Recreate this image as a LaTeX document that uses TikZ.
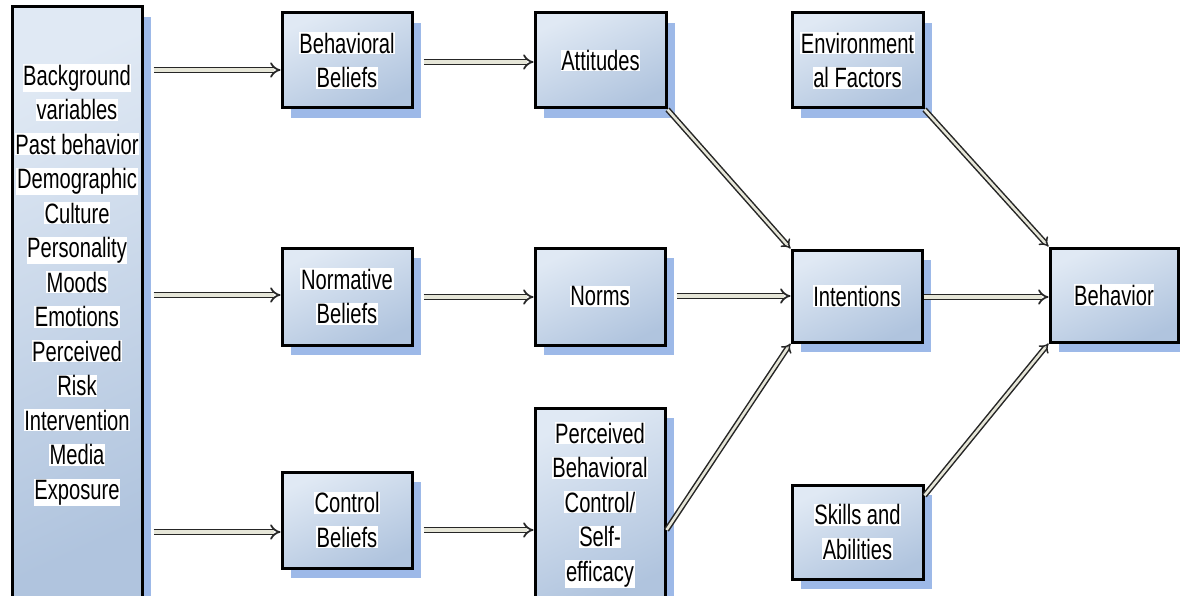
\documentclass[tikz,border=0pt]{standalone}
\usepackage{fontspec}
\setmainfont{Liberation Sans}[FakeStretch=0.72]
\usetikzlibrary{arrows.meta,shadows}
\definecolor{boxtop}{HTML}{E0E9F4}
\definecolor{boxbot}{HTML}{B0C4DE}
\definecolor{shadowblue}{HTML}{9DB9E8}
\definecolor{arrowin}{HTML}{E6E6D8}
\definecolor{arrowout}{HTML}{262626}
\newcommand\hl[1]{{\setlength\fboxsep{0.6pt}\colorbox{white}{#1}}}
\begin{document}
\begin{tikzpicture}[x=1pt,y=-1pt,
  box/.style={draw=black, line width=3pt, top color=boxtop, bottom color=boxbot, shading angle=25,
    general shadow={fill=shadowblue, shadow xshift=9pt, shadow yshift=-10pt},
    align=center, inner sep=0pt, minimum width=130pt,
    font=\fontsize{28}{34.5}\selectfont},
  txt/.style={align=center, inner sep=0pt, font=\fontsize{28}{34.5}\selectfont},
  harr/.style={draw=arrowout, line width=1.7pt, double=arrowin, double distance=3.4pt, -{Implies[length=9pt,width=17pt]}},
  darr/.style={draw=arrowout, line width=1.5pt, double=arrowin, double distance=2.6pt, -{Implies[length=8pt,width=14pt]}}]
\useasboundingbox (0,0) rectangle (1180,596);
\fill[white] (0,0) rectangle (1180,596);

\node[box, minimum height=597pt] (bg) at (77,305.5) {};
\node[txt] (bgtext) at (77,285) {\hl{Background}\\\hl{variables}\\\hl{Past behavior}\\\hl{Demographic}\\\hl{Culture}\\\hl{Personality}\\\hl{Moods}\\\hl{Emotions}\\\hl{Perceived}\\\hl{Risk}\\\hl{Intervention}\\\hl{Media}\\\hl{Exposure}};

\node[box, minimum height=95pt] (bb) at (347,60.5) {\hl{Behavioral}\\\hl{Beliefs}};
\node[box, minimum height=95pt, minimum width=131pt] (att) at (600.5,60.5) {\hl{Attitudes}};
\node[box, minimum height=95pt, minimum width=131pt] (env) at (857.5,60.5) {\hl{Environment}\\\hl{al Factors}};

\node[box, minimum height=97pt] (nb) at (347,296.5) {\hl{Normative}\\\hl{Beliefs}};
\node[box, minimum height=97pt] (norms) at (600,296.5) {\hl{Norms}};
\node[box, minimum height=92pt] (int) at (857,296) {\hl{Intentions}};
\node[box, minimum height=94pt, minimum width=128pt] (beh) at (1114,295) {\hl{Behavior}};

\node[box, minimum height=96pt] (cb) at (347,520) {\hl{Control}\\\hl{Beliefs}};
\node[box, minimum height=194pt] (pbc) at (600,505) {\hl{Perceived}\\\hl{Behavioral}\\\hl{Control/}\\\hl{Self-}\\\hl{efficacy}};
\node[box, minimum height=94pt, minimum width=131pt] (skills) at (857.5,532) {\hl{Skills and}\\\hl{Abilities}};

% horizontal arrows
\draw[harr, shorten <=10pt] (bg.east |- 0,70) -- (bb.west |- 0,70);
\draw[harr, shorten <=10pt] (bb.east |- 0,62) -- (att.west |- 0,62);
\draw[harr, shorten <=10pt] (bg.east |- 0,295) -- (nb.west |- 0,295);
\draw[harr, shorten <=10pt] (nb.east |- 0,297) -- (norms.west |- 0,297);
\draw[harr, shorten <=10pt] (norms.east |- 0,296) -- (int.west |- 0,296);
\draw[harr] (int.east |- 0,297) -- (beh.west |- 0,297);
\draw[harr, shorten <=10pt] (bg.east |- 0,532) -- (cb.west |- 0,532);
\draw[harr, shorten <=10pt] (cb.east |- 0,530) -- (pbc.west |- 0,530);

% diagonal arrows
\draw[darr] (att.south east) -- (int.north west);
\draw[darr] (env.south east) -- (beh.north west);
\draw[darr] (pbc.east |- 0,530) -- (int.south west);
\draw[darr] ([yshift=-12pt]skills.north east) -- (beh.south west);
\end{tikzpicture}
\end{document}
